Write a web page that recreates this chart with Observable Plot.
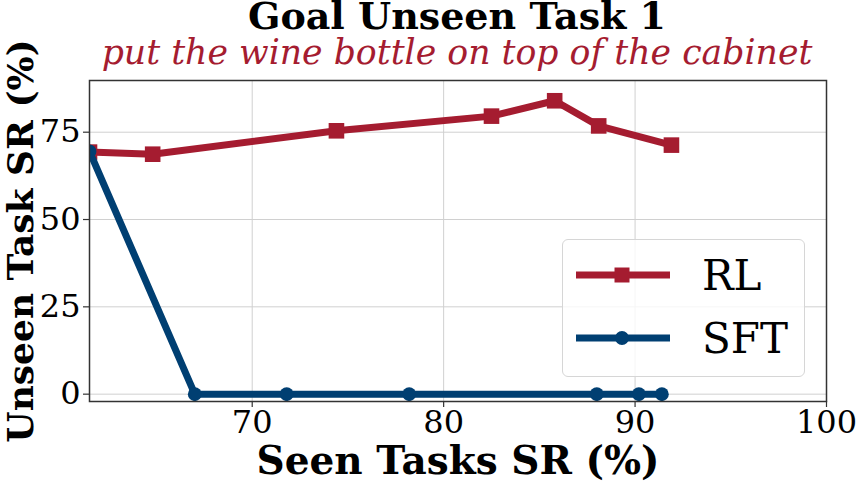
<!DOCTYPE html>
<html>
<head>
<meta charset="utf-8">
<script src="https://cdn.jsdelivr.net/npm/d3@7"></script>
<script src="https://cdn.jsdelivr.net/npm/@observablehq/plot@0.6"></script>
<style>
  html, body { margin: 0; padding: 0; background: #fff; }
  #wrap { position: relative; width: 859px; height: 484px; font-family: "DejaVu Serif", serif; overflow: hidden; }
  #title { position: absolute; left: 0; width: 914px; top: 0px; text-align: center; font-weight: bold; font-size: 38px; line-height: 32px; color: #000; white-space: nowrap; }
  #subtitle { position: absolute; left: 0; width: 914px; top: 37px; text-align: center; font-style: italic; font-size: 34.7px; line-height: 30px; color: #A51C30; white-space: nowrap; }
  #chart { position: absolute; left: 0; top: 72px; }
  #chart svg { overflow: visible; }
  #legend { position: absolute; left: 562px; top: 239px; width: 243px; height: 138px; box-sizing: border-box; border: 1.5px solid #d6d6d6; border-radius: 6px; background: rgba(255,255,255,0.8); }
  .item { position: absolute; left: 12px; height: 60px; display: flex; align-items: center; }
  .item span { font-size: 42px; margin-left: 31px; color: #000; }
</style>
</head>
<body>
<div id="wrap">
  <div id="title">Goal Unseen Task 1</div>
  <div id="subtitle">put the wine bottle on top of the cabinet</div>
  <div id="chart"></div>
  <div id="legend"></div>
</div>
<script>
const seriesNames = ["RL", "SFT"];
const seriesColors = ["#A51C30", "#003F72"];
const seriesSymbols = ["square", "circle"];
const rlSeen = [61.5, 64.8, 74.4, 82.5, 85.8, 88.1, 91.9];
const rlUnseen = [69.3, 68.7, 75.4, 79.6, 84.0, 76.8, 71.3];
const sftSeen = [61.5, 67.0, 71.8, 78.2, 88.0, 90.2, 91.4];
const sftUnseen = [69.5, 0, 0, 0, 0, 0, 0];
const xTicks = [70, 80, 90, 100];
const yTicks = [0, 25, 50, 75];

const rl = rlSeen.map((x, i) => ({x, y: rlUnseen[i], s: "RL"}));
const sft = sftSeen.map((x, i) => ({x, y: sftUnseen[i], s: "SFT"}));

const chart = Plot.plot({
  width: 859,
  height: 412,
  marginLeft: 89,
  marginRight: 33,
  marginTop: 8,
  marginBottom: 83,
  style: {fontFamily: "DejaVu Serif, serif", fontSize: "32px", color: "#000", background: "#fff", overflow: "visible"},
  x: {domain: [61.5, 100], ticks: xTicks, label: null},
  y: {domain: [-2.1, 89.8], ticks: yTicks, label: null},
  marks: [
    Plot.gridX(xTicks, {stroke: "#d0d0d0", strokeOpacity: 1, strokeWidth: 1}),
    Plot.gridY(yTicks, {stroke: "#d0d0d0", strokeOpacity: 1, strokeWidth: 1}),
    Plot.axisX(xTicks, {fontSize: 32, tickSize: 6, tickPadding: 3, stroke: "#333", strokeWidth: 1.2, label: null}),
    Plot.axisY(yTicks, {fontSize: 32, tickSize: 6, tickPadding: 3, stroke: "#333", strokeWidth: 1.2, label: null}),
    Plot.line(rl, {x: "x", y: "y", stroke: seriesColors[0], strokeWidth: 7, clip: true}),
    Plot.dot(rl, {x: "x", y: "y", symbol: "square", r: 8.8, fill: seriesColors[0], stroke: "none", clip: true}),
    Plot.line(sft, {x: "x", y: "y", stroke: seriesColors[1], strokeWidth: 7, clip: true}),
    Plot.dot(sft, {x: "x", y: "y", symbol: "circle", r: 6.9, fill: seriesColors[1], stroke: "none", clip: true}),
    Plot.frame({stroke: "#333", strokeWidth: 1.5}),
    Plot.text(["Seen Tasks SR (%)"], {frameAnchor: "bottom", dy: 60, textAnchor: "middle", lineAnchor: "middle", fontWeight: "bold", fontSize: 39, fill: "#000"}),
    Plot.text(["Unseen Task SR (%)"], {frameAnchor: "left", dx: -68, textAnchor: "middle", lineAnchor: "middle", rotate: -90, fontWeight: "bold", fontSize: 36, fill: "#000"})
  ]
});
document.getElementById("chart").appendChild(chart);

const legend = document.getElementById("legend");
seriesNames.forEach((name, i) => {
  const item = document.createElement("div");
  item.className = "item";
  item.style.top = (i === 0 ? 5 : 68) + "px";
  const sw = d3.create("svg").attr("width", 96).attr("height", 30);
  sw.append("line").attr("x1", 1).attr("x2", 95).attr("y1", 15).attr("y2", 15)
    .attr("stroke", seriesColors[i]).attr("stroke-width", 7);
  sw.append("path").attr("transform", "translate(47,15)")
    .attr("d", d3.symbol(seriesSymbols[i] === "square" ? d3.symbolSquare : d3.symbolCircle, seriesSymbols[i] === "square" ? 225 : 150)())
    .attr("fill", seriesColors[i]);
  item.appendChild(sw.node());
  const t = document.createElement("span");
  t.textContent = name;
  item.appendChild(t);
  legend.appendChild(item);
});
</script>
</body>
</html>
